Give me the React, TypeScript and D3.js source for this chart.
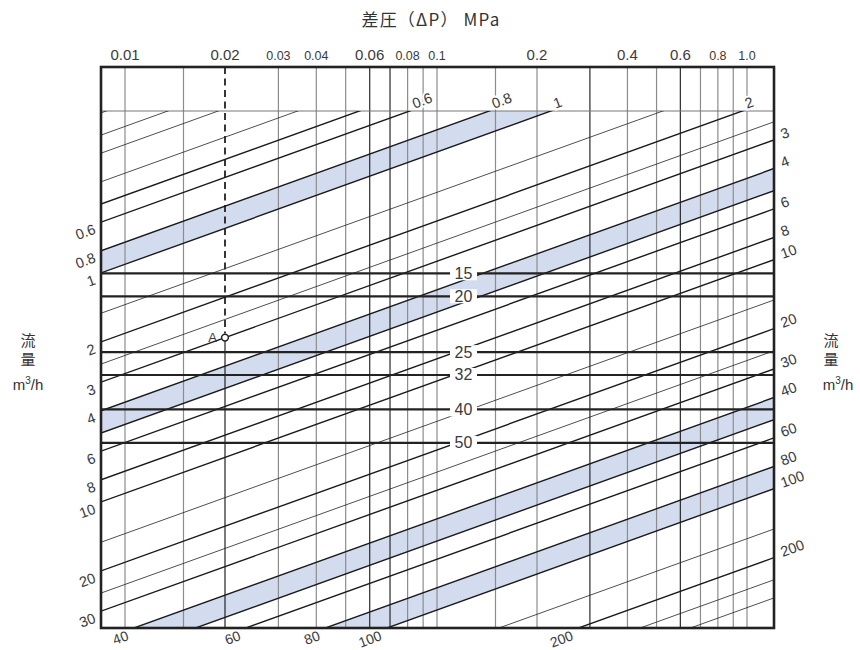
import React from "react";
import * as d3 from "d3";

// ΔP (MPa) vertical grid values
const dpTicks = [0.01, 0.015, 0.02, 0.03, 0.04, 0.05, 0.06, 0.07, 0.08, 0.09, 0.1, 0.15, 0.2, 0.3, 0.4, 0.5, 0.6, 0.7, 0.8, 0.9, 1.0];
const dpDark = [0.06, 0.07, 0.3, 0.6];
const dpLabelsMajor = ["0.01", "0.02", "0.06", "0.2", "0.4", "0.6"];
const dpLabelsMinor = ["0.03", "0.04", "0.08", "0.1", "0.8", "1.0"];

// diagonal capacity lines
const cvThick = [0.5, 0.6, 0.8, 1, 2, 3, 4, 5, 6, 8, 10, 20, 30, 40, 50, 60, 80, 100, 200];
const cvThin = [0.2, 0.25, 0.3, 0.4, 1.5, 2.5, 15, 25, 150, 250, 300];
const cvBands: [number, number][] = [[0.8, 1], [4, 5], [40, 50], [80, 100]];
const leftLabels = ["0.6", "0.8", "1", "2", "3", "4", "6", "8", "10", "20", "30"];
const topLabels = ["0.6", "0.8", "1", "2"];
const bottomLabels = ["40", "60", "80", "100", "200"];
const rightLabels = ["3", "4", "6", "8", "10", "20", "30", "40", "60", "80", "100", "200"];

// valve size rows (nominal size) and their flow position (relative flow units)
const sizes = ["15", "20", "25", "32", "40", "50"];
const sizeFlow = [1.0, 1.26, 2.21, 2.78, 3.93, 5.5];

// example point A
const pointA = { dp: 0.02, cv: 3 };

const W = 860, H = 650;
const L = 101, R = 774, T = 67, B = 628, YT = 111;
const X0 = 100;
const SLOPE = 0.36;
const FONT = "'Liberation Sans', Arial, Helvetica, sans-serif";
const CJK = "'Noto Sans CJK JP', 'Noto Sans', sans-serif";

const x = d3.scaleLog().domain([0.01, 0.02, 0.1, 0.2, 1]).range([125, 225, 437, 537, 747]);
const yFlow = d3.scaleLog().domain([1, 10]).range([273.3, 502.3]);
const lineY = (v: number, px: number) => yFlow(v) - SLOPE * (px - X0);
const xAtY = (v: number, py: number) => X0 + (yFlow(v) - py) / SLOPE;

const ax = x(pointA.dp);
const ay = lineY(pointA.cv, ax);

export default function App() {
  const labelStyle = { fontFamily: FONT, fill: "#3a3a3a" } as const;
  return (
    <svg width={W} height={H} style={{ position: "absolute", left: 0, top: 0, background: "#fff" }}>
      <defs>
        <clipPath id="plot">
          <rect x={L} y={YT} width={R - L} height={B - YT} />
        </clipPath>
      </defs>
      <rect x={0} y={0} width={W} height={H} fill="#fff" />

      {/* bands */}
      <g clipPath="url(#plot)">
        {cvBands.map(([a, b], i) => (
          <polygon
            key={i}
            points={[
              [L, lineY(a, L)], [R, lineY(a, R)], [R, lineY(b, R)], [L, lineY(b, L)],
            ].map((p) => p.join(",")).join(" ")}
            fill="#d3dcee"
          />
        ))}
      </g>

      {/* vertical grid */}
      {dpTicks.map((v) => {
        const px = x(v);
        if (Math.abs(v - pointA.dp) < 1e-9) {
          return (
            <g key={v}>
              <line x1={px} x2={px} y1={T} y2={ay - 4} stroke="#222" strokeWidth={1.8} strokeDasharray="7 4.5" />
              <line x1={px} x2={px} y1={ay + 3.5} y2={B} stroke="#222" strokeWidth={1.2} />
            </g>
          );
        }
        const dark = dpDark.some((d) => Math.abs(d - v) < 1e-9);
        return <line key={v} x1={px} x2={px} y1={T} y2={B} stroke={dark ? "#2a2a2a" : "#8c8c8c"} strokeWidth={1.2} />;
      })}

      {/* inner top line */}
      <line x1={L} x2={R} y1={YT} y2={YT} stroke="#777" strokeWidth={1} />

      {/* diagonals */}
      <g clipPath="url(#plot)">
        {cvThin.map((v) => (
          <line key={"t" + v} x1={L} y1={lineY(v, L)} x2={R} y2={lineY(v, R)} stroke="#222" strokeWidth={0.8} />
        ))}
        {cvThick.map((v) => (
          <line key={"k" + v} x1={L} y1={lineY(v, L)} x2={R} y2={lineY(v, R)} stroke="#1a1a1a" strokeWidth={1.4} />
        ))}
      </g>

      {/* valve size rows */}
      {sizes.map((s, i) => {
        const py = yFlow(sizeFlow[i]);
        return (
          <g key={s}>
            <line x1={L} x2={R} y1={py} y2={py} stroke="#222" strokeWidth={2.2} />
            <rect x={450} y={py - 7} width={27} height={14} fill="#fff" />
            <text x={463.5} y={py} dominantBaseline="central" textAnchor="middle" fontSize={16} style={labelStyle}>{s}</text>
          </g>
        );
      })}

      {/* point A */}
      <circle cx={ax} cy={ay} r={3.4} fill="#fff" stroke="#222" strokeWidth={1.5} />
      <text x={217} y={ay} dominantBaseline="central" textAnchor="end" fontSize={13} style={labelStyle}>A</text>

      {/* frame */}
      <rect x={L} y={T} width={R - L} height={B - T} fill="none" stroke="#222" strokeWidth={2.6} />

      {/* top axis labels */}
      {dpLabelsMajor.map((s) => (
        <text key={s} x={x(+s)} y={60} textAnchor="middle" fontSize={15} style={labelStyle}>{s}</text>
      ))}
      {dpLabelsMinor.map((s) => (
        <text key={s} x={x(+s)} y={60} textAnchor="middle" fontSize={12.5} style={labelStyle}>{s}</text>
      ))}
      <text x={431} y={26} textAnchor="middle" fontSize={17} letterSpacing={1.2} style={{ fontFamily: CJK, fill: "#333" }}>差圧（ΔP） MPa</text>

      {/* left labels */}
      {leftLabels.map((s) => {
        const px = 95, py = lineY(+s, X0) + 6;
        return (
          <text key={s} x={px} y={py} textAnchor="end" dominantBaseline="central" fontSize={14.5}
            transform={`rotate(-20 ${px} ${py})`} style={labelStyle}>{s}</text>
        );
      })}
      {/* top labels */}
      {topLabels.map((s) => {
        const px = xAtY(+s, YT) + 3, py = 104;
        return (
          <text key={s} x={px} y={py} textAnchor="start" dominantBaseline="central" fontSize={14.5}
            transform={`rotate(-20 ${px} ${py})`} stroke="#fff" strokeWidth={4} paintOrder="stroke"
            style={labelStyle}>{s}</text>
        );
      })}
      {/* bottom labels */}
      {bottomLabels.map((s) => {
        const px = xAtY(+s, B) - 6, py = 635;
        return (
          <text key={s} x={px} y={py} textAnchor="end" dominantBaseline="central" fontSize={14}
            transform={`rotate(-20 ${px} ${py})`} style={labelStyle}>{s}</text>
        );
      })}
      {/* right labels */}
      {rightLabels.map((s) => {
        const px = 781, py = lineY(+s, 775) - 5;
        return (
          <text key={s} x={px} y={py} textAnchor="start" dominantBaseline="central" fontSize={14.5}
            transform={`rotate(-20 ${px} ${py})`} style={labelStyle}>{s}</text>
        );
      })}

      {/* flow axis titles */}
      {[{ cx: 28, mx: 28 }, { cx: 831, mx: 838 }].map((p, i) => (
        <g key={i} style={{ fontFamily: CJK, fill: "#333" }}>
          <text x={p.cx} y={346} textAnchor="middle" fontSize={15}>流</text>
          <text x={p.cx} y={365} textAnchor="middle" fontSize={15}>量</text>
          <text x={p.mx} y={390} textAnchor="middle" fontSize={15} style={{ fontFamily: FONT }}>
            m<tspan fontSize={10} dy={-6}>3</tspan><tspan dy={6}>/h</tspan>
          </text>
        </g>
      ))}
    </svg>
  );
}
